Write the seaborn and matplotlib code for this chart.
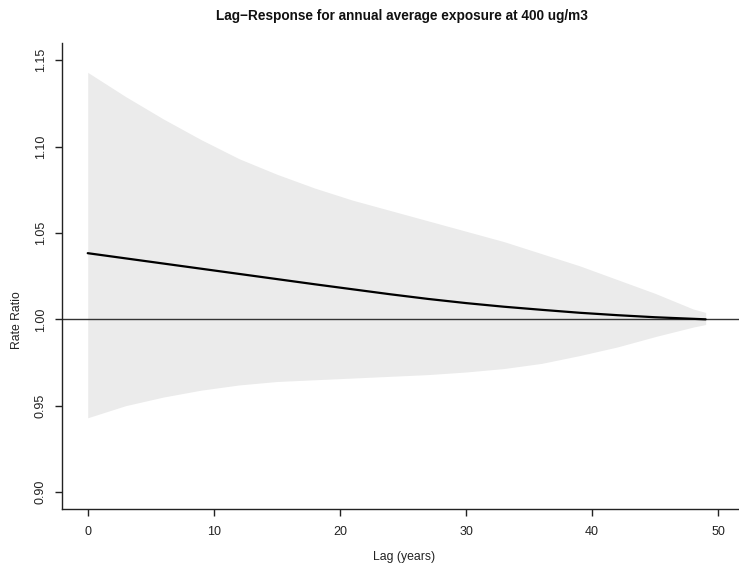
import matplotlib
matplotlib.use("Agg")
import matplotlib.pyplot as plt
import seaborn as sns
import pandas as pd

# Data
lag = [0, 3, 6, 9, 12, 15, 18, 21, 24, 27, 30, 33, 36, 39, 42, 45, 48, 49]
rr = [1.0383, 1.0353, 1.0323, 1.0293, 1.0263, 1.0233, 1.0203, 1.0174, 1.0145, 1.0118,
      1.0094, 1.0073, 1.0055, 1.0038, 1.0024, 1.0012, 1.0003, 1.0000]
rr_high = [1.143, 1.129, 1.116, 1.104, 1.093, 1.084, 1.076, 1.069, 1.063, 1.057,
           1.051, 1.045, 1.038, 1.031, 1.023, 1.015, 1.006, 1.004]
rr_low = [0.943, 0.950, 0.955, 0.959, 0.962, 0.964, 0.965, 0.966, 0.967, 0.968,
          0.9695, 0.9715, 0.9745, 0.979, 0.984, 0.990, 0.9955, 0.997]
xticks = [0, 10, 20, 30, 40, 50]
yticks = [0.90, 0.95, 1.00, 1.05, 1.10, 1.15]
title = "Lag\u2212Response for annual average exposure at 400 ug/m3"

df = pd.DataFrame({"lag": lag, "rr": rr, "low": rr_low, "high": rr_high})

sns.set_style("ticks")
plt.rcParams["font.family"] = ["Liberation Sans", "DejaVu Sans"]

fig = plt.figure(figsize=(7.39, 5.67), dpi=100)
ax = fig.add_axes([62 / 739, 57.7 / 567, (756.6 - 62) / 739, (524 - 57.7) / 567])

ax.fill_between(df["lag"], df["low"], df["high"], color="#ebebeb", linewidth=0, zorder=1)
ax.axhline(1.0, color="#333333", linewidth=1.0, zorder=2)
sns.lineplot(data=df, x="lag", y="rr", color="black", linewidth=1.6, ax=ax, zorder=3)

ax.set_xlim(-2.04, 53.04)
ax.set_ylim(0.89, 1.16)
ax.set_xticks(xticks)
ax.set_xticklabels([str(v) for v in xticks])
ax.set_yticks(yticks)
ax.set_yticklabels([f"{v:.2f}" for v in yticks], rotation=90, va="center")

for s in ["top", "right"]:
    ax.spines[s].set_visible(False)
for s in ["left", "bottom"]:
    ax.spines[s].set_color("#222222")
    ax.spines[s].set_linewidth(1.0)

ax.tick_params(axis="both", direction="out", length=5, width=1.0, color="#222222",
               labelsize=9, labelcolor="#222222")
ax.tick_params(axis="x", pad=7)
ax.tick_params(axis="y", pad=6)

ax.set_xlabel("")
ax.set_ylabel("")
fig.text(404 / 739, 1 - 557 / 567, "Lag (years)", ha="center", va="center",
         fontsize=8.8, color="#222222")
fig.text(17 / 739, 1 - 320 / 567, "Rate Ratio", ha="center", va="center",
         rotation=90, fontsize=8.8, color="#222222")
fig.text(402 / 739, 1 - 16 / 567, title, ha="center", va="center",
         fontsize=9.8, fontweight="bold", color="#111111")

fig.savefig("out.png", dpi=100)
